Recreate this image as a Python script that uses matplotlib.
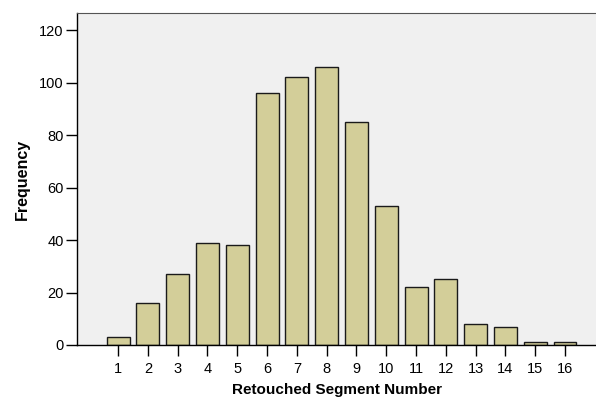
import matplotlib.pyplot as plt

# Retouched segment counts
segments = list(range(1, 17))
frequency = [3, 16, 27, 39, 38, 96, 102, 106, 85, 53, 22, 25, 8, 7, 1, 1]
yticks = [0, 20, 40, 60, 80, 100, 120]

plt.rcParams['font.family'] = ['Liberation Sans', 'DejaVu Sans']

fig = plt.figure(figsize=(5.96, 4.0), dpi=100)
ax = fig.add_axes([77 / 596, 55 / 400, 1 - 77 / 596, (345 - 13) / 400])
ax.set_facecolor('#f0f0f0')

ax.bar(segments, frequency, width=0.77, color='#d3ce99', edgecolor='#1a1a1a', linewidth=1.0)

ax.set_xlim(-0.38, 17.04)
ax.set_ylim(0, 126.5)
ax.set_xticks(segments)
ax.set_yticks(yticks)
ax.tick_params(axis='both', direction='out', length=8, width=1, labelsize=10.5, colors='black')
ax.tick_params(axis='x', pad=4)
ax.tick_params(axis='y', pad=1.5)

ax.spines['right'].set_visible(False)
ax.spines['top'].set_color('#555555')
for s in ['left', 'bottom']:
    ax.spines[s].set_linewidth(1.0)

ax.set_xlabel('Retouched Segment Number', fontsize=11, fontweight='bold', labelpad=5)
ax.set_ylabel('Frequency', fontsize=11.5, fontweight='bold', labelpad=7)

fig.savefig('out.png', dpi=100)
